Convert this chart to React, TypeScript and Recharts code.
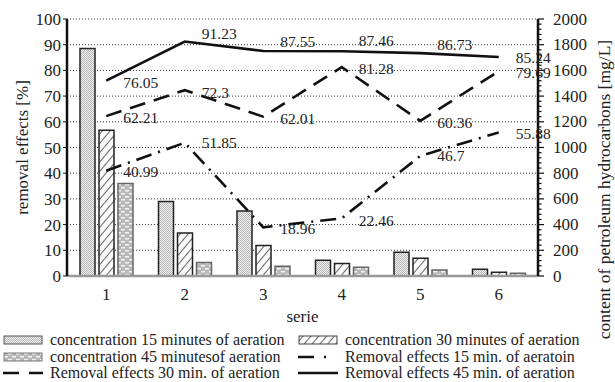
import React from 'react';
import {
  ComposedChart,
  Bar,
  Line,
  XAxis,
  YAxis,
  CartesianGrid,
  Legend,
  LabelList,
  Label
} from 'recharts';

// series (x axis)
const series = ['1', '2', '3', '4', '5', '6'];

// concentration of petroleum hydrocarbons [mg/L] (right axis)
const conc15 = [1770, 580, 505, 122, 184, 52];
const conc30 = [1135, 335, 238, 98, 138, 29];
const conc45 = [720, 105, 75, 68, 47, 21];

// removal effects [%] (left axis)
const removal15 = [40.99, 51.85, 18.96, 22.46, 46.7, 55.88];
const removal30 = [62.21, 72.3, 62.01, 81.28, 60.36, 79.69];
const removal45 = [76.05, 91.23, 87.55, 87.46, 86.73, 85.24];

const leftTicks = [0, 10, 20, 30, 40, 50, 60, 70, 80, 90, 100];
// minor ticks every 40 mg/L, labels only on multiples of 200
const rightTicks = Array.from({ length: 51 }, (_, i) => i * 40);

// label vertical nudges (the solid line labels sit above the line)
const dy45 = [2, -8, -9, -11, -9, 1];
const dy30 = [1, 2, 2, 1, 2, 1];
const dy15 = [1, 0, 1, 2, 0, 1];

const FONT = '"Liberation Serif", "Times New Roman", serif';

const data = series.map((s, i) => ({
  serie: s,
  c15: conc15[i],
  c30: conc30[i],
  c45: conc45[i],
  r15: removal15[i],
  r30: removal30[i],
  r45: removal45[i]
}));

const makeLabel = (dys: number[]) => (props: any) => {
  const { x, y, value, index } = props;
  return (
    <text
      x={x + 17}
      y={y + dys[index]}
      textAnchor="start"
      dominantBaseline="central"
      fontFamily={FONT}
      fontSize={15.5}
      fill="#222"
    >
      {value}
    </text>
  );
};

const RightTick = (props: any) => {
  const { x, y, payload } = props;
  const major = payload.value % 200 === 0;
  return (
    <g>
      <line x1={x} x2={x + (major ? 6 : 3.5)} y1={y} y2={y} stroke="#111" strokeWidth={1.2} />
      {major && (
        <text x={x + 15} y={y} dominantBaseline="central" fontFamily={FONT} fontSize={17} fill="#222">
          {payload.value}
        </text>
      )}
    </g>
  );
};

const Swatch = ({ kind }: { kind: string }) => {
  if (kind === 'c15') return <rect x={1} y={4} width={38} height={8} fill="url(#p15)" stroke="#555" />;
  if (kind === 'c30') return <rect x={1} y={4} width={38} height={8} fill="url(#p30)" stroke="#444" />;
  if (kind === 'c45') return <rect x={1} y={4} width={38} height={8} fill="url(#p45)" stroke="#777" />;
  if (kind === 'r15')
    return <line x1={0} x2={40} y1={8} y2={8} stroke="#111" strokeWidth={2.5} strokeDasharray="16 10 2 14" />;
  if (kind === 'r30')
    return <line x1={0} x2={40} y1={8} y2={8} stroke="#111" strokeWidth={2.5} strokeDasharray="16 10" />;
  return <line x1={0} x2={40} y1={8} y2={8} stroke="#111" strokeWidth={2.5} />;
};

const legendItems = [
  { kind: 'c15', text: 'concentration 15 minutes of aeration' },
  { kind: 'c30', text: 'concentration 30 minutes of aeration' },
  { kind: 'c45', text: 'concentration 45 minutesof aeration' },
  { kind: 'r15', text: 'Removal effects 15 min. of aeratoin' },
  { kind: 'r30', text: 'Removal effects 30 min. of aeration' },
  { kind: 'r45', text: 'Removal effects 45 min. of aeration' }
];

const ChartLegend = () => (
  <div style={{ position: 'relative', width: 615, height: 56, fontFamily: FONT, fontSize: 16, color: '#222' }}>
    {legendItems.map((it, i) => {
      const col = i % 2;
      const row = Math.floor(i / 2);
      return (
        <div
          key={it.kind}
          style={{
            position: 'absolute',
            left: col === 0 ? 3 : 298,
            top: 6 + row * 16.5,
            height: 16,
            lineHeight: '16px',
            display: 'flex',
            alignItems: 'center',
            whiteSpace: 'nowrap'
          }}
        >
          <svg width={40} height={16} style={{ marginRight: 7 }}>
            <Swatch kind={it.kind} />
          </svg>
          <span>{it.text}</span>
        </div>
      );
    })}
  </div>
);

const Patterns = () => (
  <svg width={0} height={0} style={{ position: 'absolute' }}>
    <defs>
      <pattern id="p15" width={2} height={2} patternUnits="userSpaceOnUse">
        <rect width={2} height={2} fill="#f2f2f2" />
        <rect width={1} height={1} fill="#b5b5b5" />
        <rect x={1} y={1} width={1} height={1} fill="#b5b5b5" />
      </pattern>
      <pattern id="p30" width={6} height={6} patternUnits="userSpaceOnUse" patternTransform="rotate(40)">
        <rect width={6} height={6} fill="#fafafa" />
        <line x1={0} y1={0} x2={0} y2={6} stroke="#555" strokeWidth={1.8} />
      </pattern>
      <pattern id="p45" width={8} height={6} patternUnits="userSpaceOnUse">
        <rect width={8} height={6} fill="#b8b8b8" />
        <rect x={1} y={1} width={4} height={1.5} fill="#f4f4f4" />
        <rect x={5} y={4} width={4} height={1.5} fill="#f4f4f4" />
        <rect x={-3} y={4} width={4} height={1.5} fill="#f4f4f4" />
      </pattern>
    </defs>
  </svg>
);

const LeftTitle = (props: any) => {
  const { viewBox } = props;
  const cx = viewBox.x + 22;
  const cy = viewBox.y + viewBox.height / 2;
  return (
    <text
      x={cx}
      y={cy}
      transform={`rotate(-90, ${cx}, ${cy})`}
      textAnchor="middle"
      dominantBaseline="central"
      fontFamily={FONT}
      fontSize={17}
      fill="#222"
    >
      removal effects [%]
    </text>
  );
};

const RightTitle = (props: any) => {
  const { viewBox } = props;
  const cx = viewBox.x + 66;
  const cy = viewBox.y + viewBox.height / 2 + 42;
  return (
    <text
      x={cx}
      y={cy}
      transform={`rotate(-90, ${cx}, ${cy})`}
      textAnchor="middle"
      dominantBaseline="central"
      fontFamily={FONT}
      fontSize={17.5}
      fill="#222"
    >
      content of petroleum hydrocarbons [mg/L]
    </text>
  );
};

const BottomTitle = (props: any) => {
  const { viewBox } = props;
  return (
    <text
      x={viewBox.x + viewBox.width / 2}
      y={viewBox.y + 46}
      textAnchor="middle"
      fontFamily={FONT}
      fontSize={17}
      fill="#222"
    >
      serie
    </text>
  );
};

export default function App() {
  return (
    <div style={{ position: 'absolute', left: 0, top: 0, width: 615, height: 382, background: '#fff' }}>
      <Patterns />
      <ComposedChart
        width={615}
        height={382}
        data={data}
        margin={{ top: 19, right: 0, bottom: 0, left: 0 }}
        barGap={4}
      >
        <CartesianGrid yAxisId="left" vertical={false} stroke="#333" strokeDasharray="1 2" />
        <XAxis
          dataKey="serie"
          height={50}
          axisLine={{ stroke: '#999', strokeWidth: 2.5 }}
          tickLine={false}
          tick={{ fontFamily: FONT, fontSize: 17, fill: '#222' }}
          tickMargin={6}
        >
          <Label content={<BottomTitle />} />
        </XAxis>
        <YAxis
          yAxisId="left"
          width={67}
          domain={[0, 100]}
          ticks={leftTicks}
          interval={0}
          axisLine={{ stroke: '#111', strokeWidth: 2.5 }}
          tickLine={{ stroke: '#111' }}
          tickSize={4}
          tickMargin={2}
          tick={{ fontFamily: FONT, fontSize: 17, fill: '#222' }}
        >
          <Label content={<LeftTitle />} />
        </YAxis>
        <YAxis
          yAxisId="right"
          orientation="right"
          width={77}
          domain={[0, 2000]}
          ticks={rightTicks}
          interval={0}
          axisLine={{ stroke: '#111', strokeWidth: 2.5 }}
          tickLine={false}
          tickSize={0}
          tickMargin={0}
          tick={<RightTick />}
        >
          <Label content={<RightTitle />} />
        </YAxis>
        <Legend verticalAlign="bottom" content={<ChartLegend />} wrapperStyle={{ left: 0, bottom: 0, width: 615 }} />

        <Bar yAxisId="right" dataKey="c15" barSize={15} fill="url(#p15)" stroke="#222" strokeWidth={1.5} isAnimationActive={false} />
        <Bar yAxisId="right" dataKey="c30" barSize={15} fill="url(#p30)" stroke="#222" strokeWidth={1.5} isAnimationActive={false} />
        <Bar yAxisId="right" dataKey="c45" barSize={15} fill="url(#p45)" stroke="#666" strokeWidth={1.5} isAnimationActive={false} />

        <Line yAxisId="left" dataKey="r45" stroke="#111" strokeWidth={2.6} dot={false} isAnimationActive={false}>
          <LabelList dataKey="r45" content={makeLabel(dy45)} />
        </Line>
        <Line yAxisId="left" dataKey="r30" stroke="#111" strokeWidth={2.6} strokeDasharray="16 9" dot={false} isAnimationActive={false}>
          <LabelList dataKey="r30" content={makeLabel(dy30)} />
        </Line>
        <Line yAxisId="left" dataKey="r15" stroke="#111" strokeWidth={2.6} strokeDasharray="16 7 2 7" dot={false} isAnimationActive={false}>
          <LabelList dataKey="r15" content={makeLabel(dy15)} />
        </Line>
      </ComposedChart>
    </div>
  );
}
